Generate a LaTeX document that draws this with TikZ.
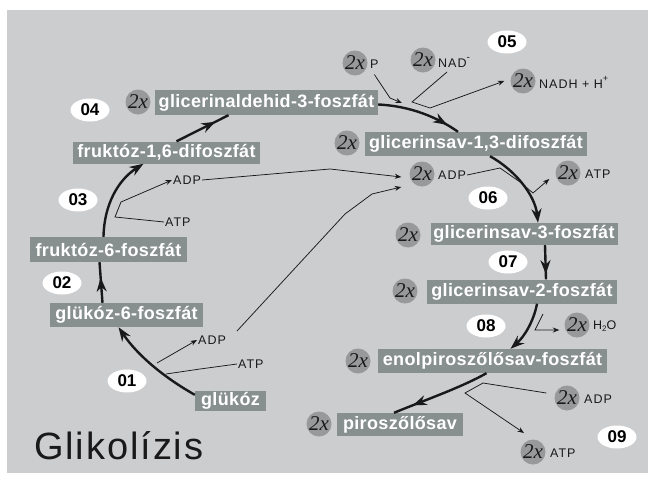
\documentclass[tikz,border=0pt]{standalone}
\usepackage{fontspec}
\setmainfont{Liberation Sans}
\newfontfamily\boxfont{Liberation Sans}[LetterSpace=2]
\newfontfamily\labfont{Liberation Sans}[LetterSpace=8]
\newfontfamily\titlefont{Liberation Sans}[LetterSpace=5]
\newfontfamily\serifit{Liberation Serif}
\usetikzlibrary{arrows.meta,decorations.markings,shapes.geometric}
\definecolor{bg}{RGB}{204,205,207}
\definecolor{boxg}{RGB}{136,143,143}
\definecolor{circ}{RGB}{152,153,154}
\definecolor{ink}{RGB}{25,25,25}
\begin{document}
\begin{tikzpicture}[x=1pt,y=-1pt,
  box/.style={fill=boxg, text=white, font=\boxfont\bfseries\fontsize{18}{20}\selectfont, inner sep=0pt},
  cnt/.style={circle, fill=circ, minimum size=25pt, inner sep=0pt, text=ink, font=\serifit\itshape\fontsize{21}{21}\selectfont},
  lab/.style={anchor=west, inner sep=1pt, text=ink, font=\labfont\fontsize{12.5}{12.5}\selectfont},
  num/.style={ellipse, fill=white, minimum width=39pt, minimum height=23pt, inner sep=0pt, text=black, font=\bfseries\fontsize{17}{17}\selectfont},
  mainline/.style={draw=ink, line width=2.4pt},
  mainarr/.style={mainline, -{Stealth[length=14pt,width=10pt]}},
  midarr/.style={mainline, postaction={decorate}, decoration={markings, mark=at position #1 with {\arrow{Stealth[length=14pt,width=10pt]}}}},
  thinline/.style={draw=ink, line width=0.75pt},
  thinarr/.style={thinline, -{Stealth[length=6.5pt,width=5pt]}}
]
\fill[white] (0,0) rectangle (648,482);
\fill[bg] (7,10) rectangle (648,473);
\useasboundingbox (0,0) rectangle (648,482);

% boxes
\node[box,minimum width=223pt,minimum height=25pt] (g3p) at (266.5,102.5) {glicerinaldehid-3-foszfát};
\node[box,minimum width=187pt,minimum height=22pt] (f16) at (166.5,152.5) {fruktóz-1,6-difoszfát};
\node[box,minimum width=157pt,minimum height=25pt] (f6p) at (108.5,249.5) {fruktóz-6-foszfát};
\node[box,minimum width=153pt,minimum height=24pt] (g6p) at (126.5,315) {glükóz-6-foszfát};
\node[box,minimum width=71pt,minimum height=20pt] (glu) at (230.5,401) {glükóz};
\node[box,minimum width=222pt,minimum height=24pt] (g13) at (476,144) {glicerinsav-1,3-difoszfát};
\node[box,minimum width=187pt,minimum height=22pt] (g3) at (524,234) {glicerinsav-3-foszfát};
\node[box,minimum width=190pt,minimum height=24pt] (g2) at (522,291.5) {glicerinsav-2-foszfát};
\node[box,minimum width=229pt,minimum height=24pt] (pep) at (492.5,361) {enolpiroszőlősav-foszfát};
\node[box,minimum width=126pt,minimum height=23pt] (pyr) at (400,424.5) {piroszőlősav};

% 2x circles and labels
\node[cnt] (cg3p) at (138,102) {2x};
\node[cnt] (cP) at (355,63) {2x};
\node[lab] (lP) at (369,64) {P};
\node[cnt] (cNAD) at (423,60) {2x};
\node[lab] (lNAD) at (437,62) {NAD\raisebox{7pt}{\fontsize{10}{10}\selectfont -}};
\node[cnt] (cNADH) at (523,81) {2x};
\node[lab] (lNADH) at (538,82) {NADH + H\raisebox{7pt}{\fontsize{9}{9}\selectfont +}};
\node[cnt] (cg13) at (347,143) {2x};
\node[cnt] (cADP1) at (422,174) {2x};
\node[lab] (lADP1) at (437,175) {ADP};
\node[cnt] (cATP1) at (568,173) {2x};
\node[lab] (lATP1) at (584,174) {ATP};
\node[cnt] (cg3) at (408,235) {2x};
\node[cnt] (cg2) at (405,291) {2x};
\node[cnt] (cH2O) at (577,325) {2x};
\node[lab] (lH2O) at (592,326) {H\raisebox{-2pt}{\fontsize{8}{8}\selectfont 2}O};
\node[cnt] (cpep) at (358,361) {2x};
\node[cnt] (cADP2) at (567,398) {2x};
\node[lab] (lADP2) at (583,399) {ADP};
\node[cnt] (cpyr) at (319,424) {2x};
\node[cnt] (cATP2) at (533,452) {2x};
\node[lab] (lATP2) at (549,453) {ATP};

% left small labels
\node[lab] (adp01) at (197,340) {ADP};
\node[lab] (atp01) at (237,364) {ATP};
\node[lab] (adp03) at (172,180) {ADP};
\node[lab] (atp03) at (164,222) {ATP};

% step numbers
\node[num] (n01) at (127,381) {01};
\node[num] (n02) at (62,283) {02};
\node[num] (n03) at (78,200) {03};
\node[num] (n04) at (90,110) {04};
\node[num] (n05) at (507,42) {05};
\node[num] (n06) at (488,198) {06};
\node[num] (n07) at (508,262) {07};
\node[num] (n08) at (486,326) {08};
\node[num] (n09) at (617,437) {09};

% title
\node[anchor=base west, inner sep=0pt, text=ink, font=\titlefont\fontsize{38}{40}\selectfont] (title) at (34,459) {Glikolízis};

% main pathway
\draw[mainarr] ([yshift=-4pt]glu.north west) .. controls (165,378) and (138,356) .. ([xshift=-8pt]g6p.south);
\draw[midarr=0.62] ([xshift=-24pt]g6p.north) -- ([xshift=-9pt]f6p.south);
\draw[mainarr] ([xshift=-5pt]f6p.north) .. controls (104,205) and (118,180) .. ([xshift=-23pt]f16.south);
\draw[midarr=0.75] ([xshift=10pt]f16.north) -- ([xshift=-38pt]g3p.south);
\draw[midarr=0.85] ([yshift=-2pt]g3p.east) .. controls (410,106) and (437,117) .. ([xshift=-18pt]g13.north);
\draw[mainarr] ([xshift=14pt]g13.south) .. controls (515,170) and (535,195) .. ([xshift=14pt]g3.north);
\draw[midarr=0.85] ([xshift=21pt]g3.south) -- ([xshift=24pt]g2.north);
\draw[mainarr] ([xshift=15pt]g2.south) .. controls (534,320) and (525,336) .. ([xshift=18pt]pep.north);
\draw[midarr=0.8] ([xshift=-6pt]pep.south) .. controls (460,388) and (425,400) .. ([xshift=-6pt]pyr.north);

% step 01
\coordinate (p01a) at (157,363);
\coordinate (p01b) at (166,374);
\draw[thinarr] (p01a) -- (adp01.west);
\draw[thinline] (atp01.west) -- (200,369) -- (p01b);
% step 03
\draw[thinarr] (atp03.west) -- (115,217) -- (121,202) -- (adp03.west);
% ADP lines to the right
\draw[thinarr] (adp03.east) -- (330,169) -- ([shift={(-8pt,-3pt)}]cADP1.west);
\coordinate (p01c) at (237,331);
\draw[thinarr] (p01c) -- (345,214) -- (372,194) -- ([shift={(-8pt,-13pt)}]cADP1.west);
% step 05
\draw[thinarr] ([yshift=-5pt]lP.south) -- (390,98) -- (402,103);
\coordinate (p05a) at (447,72);
\draw[thinarr] (p05a) -- (412,102) -- (430,108) -- ([xshift=-6pt]cNADH.west);
% step 06
\draw[thinarr] (lADP1.east) -- (500,168) -- (520,182) -- (533,193) -- ([shift={(-6pt,-6pt)}]cATP1.west);
% step 08
\coordinate (p08a) at (543,314);
\draw[thinarr] (p08a) -- (535,330) -- ([shift={(-5pt,-5pt)}]cH2O.west);
% step 09
\draw[thinarr] ([shift={(-8pt,5pt)}]cADP2.west) -- (483,383) -- (465,393) -- ([yshift=10pt]cATP2.north west);
\end{tikzpicture}
\end{document}
